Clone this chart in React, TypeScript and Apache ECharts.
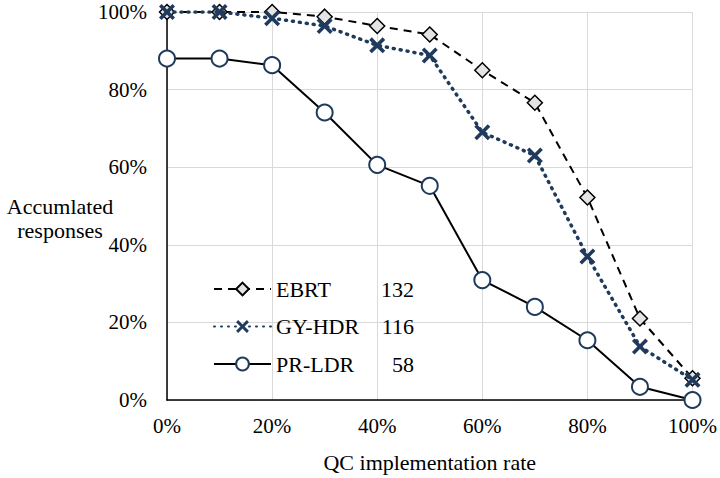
import React, { useEffect, useRef } from "react";
import * as echarts from "echarts";

const xValues = [0, 10, 20, 30, 40, 50, 60, 70, 80, 90, 100];
const ebrt = [100, 100, 100, 98.8, 96.4, 94.2, 85, 76.6, 52.2, 21, 5.6];
const gyHdr = [100, 100, 98.4, 96.4, 91.4, 88.8, 69, 63, 37, 13.8, 5.2];
const prLdr = [88, 88, 86.3, 74.1, 60.6, 55.2, 30.9, 24, 15.4, 3.4, 0];
const seriesNames = ["EBRT", "GY-HDR", "PR-LDR"];
const seriesCounts = ["132", "116", "58"];
const xTitle = "QC implementation rate";
const yTitle = "Accumlated\nresponses";

const FONT = "Liberation Serif";
const NAVY = "#1f3a5c";
const CROSS = "path://M0,1.6 L1.6,0 L5,3.4 L8.4,0 L10,1.6 L6.6,5 L10,8.4 L8.4,10 L5,6.6 L1.6,10 L0,8.4 L3.4,5 Z";

export default function App() {
  const ref = useRef<HTMLDivElement>(null);
  useEffect(() => {
    if (!ref.current) return;
    const chart = echarts.init(ref.current, undefined, { renderer: "svg" });
    const pairs = (arr: number[]) => arr.map((v, i) => [xValues[i], v]);
    const counts: Record<string, string> = {};
    seriesNames.forEach((n, i) => (counts[n] = seriesCounts[i]));
    chart.setOption({
      animation: false,
      backgroundColor: "#ffffff",
      textStyle: { fontFamily: FONT },
      grid: { left: 167, right: 26, top: 12, bottom: 78, containLabel: false },
      xAxis: {
        type: "value",
        min: 0,
        max: 100,
        interval: 20,
        name: xTitle,
        nameLocation: "middle",
        nameGap: 51,
        nameTextStyle: { fontSize: 22, color: "#000", fontFamily: FONT },
        axisLine: { show: true, lineStyle: { color: "#000", width: 1.5 } },
        axisTick: { show: false },
        axisLabel: { formatter: "{value}%", fontSize: 21, color: "#000", margin: 15, fontFamily: FONT },
        splitLine: { show: true, lineStyle: { color: "#d9d9d9", width: 1 } },
      },
      yAxis: {
        type: "value",
        min: 0,
        max: 100,
        interval: 20,
        axisLine: { show: true, lineStyle: { color: "#000", width: 1.5 } },
        axisTick: { show: false },
        axisLabel: { formatter: "{value}%", fontSize: 21, color: "#000", margin: 20, fontFamily: FONT },
        splitLine: { show: true, lineStyle: { color: "#d9d9d9", width: 1 } },
      },
      legend: {
        orient: "vertical",
        left: 213,
        top: 277,
        padding: 0,
        itemWidth: 57,
        itemHeight: 16,
        itemGap: 13.5,
        data: seriesNames,
        formatter: (name: string) => `{n|${name}}{c|${counts[name]}}`,
        textStyle: {
          fontFamily: FONT,
          fontSize: 22,
          color: "#000",
          lineHeight: 24,
          rich: {
            n: { fontSize: 22, fontFamily: FONT, color: "#000", width: 92 },
            c: { fontSize: 22, fontFamily: FONT, color: "#000", width: 46, align: "right" },
          },
        },
      },
      graphic: [
        {
          type: "text",
          x: 60,
          y: 194,
          style: {
            text: yTitle,
            fontSize: 22,
            fontFamily: FONT,
            fill: "#000",
            align: "center",
            verticalAlign: "top",
            lineHeight: 24,
          },
        },
      ],
      series: [
        {
          name: seriesNames[0],
          type: "line",
          data: pairs(ebrt),
          symbol: "diamond",
          symbolSize: 15,
          lineStyle: { color: "#000", width: 2, type: [8, 6] },
          itemStyle: { color: "#e4e4e4", borderColor: "#000", borderWidth: 1.5 },
          z: 2,
        },
        {
          name: seriesNames[1],
          type: "line",
          data: pairs(gyHdr),
          symbol: CROSS,
          symbolSize: 16,
          lineStyle: { color: NAVY, width: 3.5, type: [1, 6], cap: "round" },
          itemStyle: { color: NAVY, borderWidth: 0 },
          z: 3,
        },
        {
          name: seriesNames[2],
          type: "line",
          data: pairs(prLdr),
          symbol: "circle",
          symbolSize: 16,
          showAllSymbol: true,
          lineStyle: { color: "#000", width: 2, type: "solid" },
          itemStyle: { color: "#ffffff", borderColor: NAVY, borderWidth: 2 },
          z: 4,
        },
      ],
    });
    return () => chart.dispose();
  }, []);
  return (
    <div
      ref={ref}
      style={{ position: "absolute", left: 0, top: 0, width: 720, height: 478 }}
    />
  );
}
